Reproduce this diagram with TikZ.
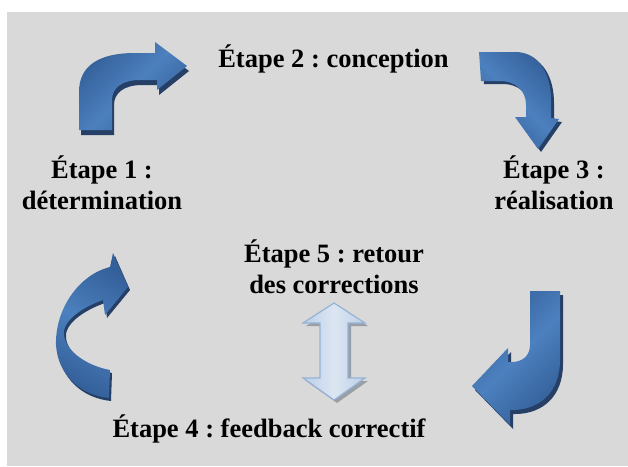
\documentclass[tikz,border=0pt]{standalone}
\usepackage{fontspec}
\setmainfont{Liberation Serif}
\frenchspacing
\definecolor{bg}{HTML}{D9D9D9}
\definecolor{bdark}{HTML}{34609A}
\definecolor{blight}{HTML}{4C80BE}
\definecolor{bshadow}{HTML}{253F66}
\definecolor{lbfill}{HTML}{DCE6F2}
\definecolor{lbside}{HTML}{BCCFE7}
\definecolor{lbedge}{HTML}{95B3D7}
\definecolor{gshadow}{HTML}{9A9FA6}
\begin{document}
\begin{tikzpicture}[x=1pt,y=-1pt,
  lbl/.style={font=\bfseries\fontsize{26.5}{31}\selectfont, inner sep=0pt, align=center, anchor=base},
  barrow/.style={left color=bdark, right color=bdark, middle color=blight},
  shad/.style={fill=bshadow},
  lbarrow/.style={left color=lbside, right color=lbside, middle color=lbfill, draw=lbedge, line width=1.2pt, line join=miter},
  gshad/.style={fill=gshadow}]
\useasboundingbox (0,0) rectangle (628,466);
\fill[bg] (7,12) rectangle (628,466);

% Arrow 1 (top-left)
\def\arrowA{(79,130) -- (79,92) .. controls (79,65) and (100,53) .. (135,53) -- (155,53) -- (155,42) -- (187,66) -- (157,90) -- (157,80) -- (140,80) .. controls (122,80) and (112,88) .. (112,100) -- (112,130) -- cycle}
\fill[shad, shift={(2,5)}] \arrowA;
\shade[barrow, shading angle=45] \arrowA;

% Arrow 2 (top-right)
\def\arrowB{(479,52) -- (515,52) .. controls (540,52) and (551,75) .. (551,100) -- (551,118) -- (559,119) -- (538,149) -- (515,117) -- (526,117) -- (526,105) .. controls (526,90) and (515,81) .. (500,81) -- (481,81) -- cycle}
\fill[shad, shift={(3,3)}] \arrowB;
\shade[barrow, shading angle=-45] \arrowB;

% Arrow 3 (bottom-right)
\def\arrowC{(530,291) -- (560,291) -- (560,360) .. controls (560,392) and (540,410) .. (512,410) -- (510,410) -- (510,425) -- (472,386) -- (508,348) -- (508,362) -- (512,362) .. controls (522,362) and (530,356) .. (530,345) -- cycle}
\fill[shad, shift={(3,4)}] \arrowC;
\shade[barrow, shading angle=45] \arrowC;

% Arrow 4 (bottom-left)
\def\arrowD{(113,253) -- (128,287) -- (105,315) -- (103,300) .. controls (80,308) and (62,322) .. (64,335) .. controls (66,352) and (88,366) .. (110,370) -- (109,398) .. controls (80,395) and (58,375) .. (56,345) .. controls (55,310) and (78,275) .. (110,267) -- cycle}
\fill[shad, shift={(2,3)}] \arrowD;
\shade[barrow, shading angle=-30] \arrowD;

% Double arrow (center)
\def\arrowE{(334,303) -- (365,323) -- (348,323) -- (348,378) -- (365,378) -- (334,400) -- (303,378) -- (320,378) -- (320,323) -- (303,323) -- cycle}
\fill[gshad, shift={(3,3)}] \arrowE;
\shade[lbarrow] \arrowE;

% Labels (base anchor = baseline of last line)
\node[lbl] (t2) at (333.5,67) {Étape 2 : conception};
\node[lbl] (t1) at (102,209) {Étape 1 :\\détermination};
\node[lbl] (t3) at (554,209) {Étape 3 :\\réalisation};
\node[lbl] (t5) at (334,293) {Étape 5 : retour\\des corrections};
\node[lbl] (t4) at (269,437) {Étape 4 : feedback correctif};
\end{tikzpicture}
\end{document}
